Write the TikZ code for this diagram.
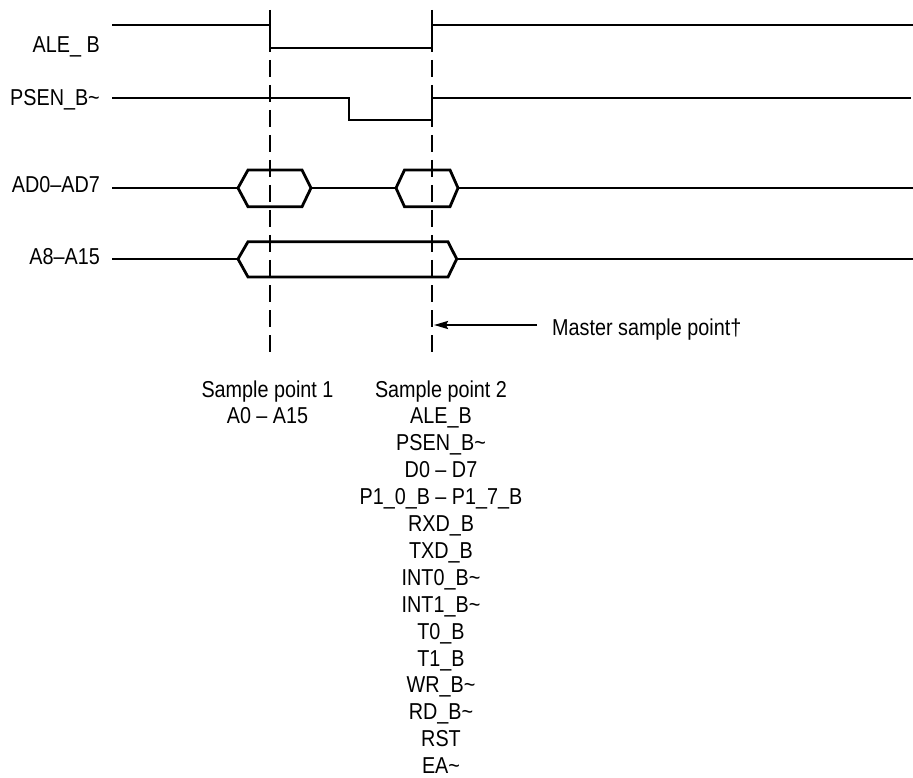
\documentclass[tikz,border=0pt]{standalone}
\usepackage{fontspec}
\setmainfont{Liberation Sans}[FakeStretch=0.86]
\usetikzlibrary{arrows.meta}
\begin{document}
\begin{tikzpicture}[x=1pt,y=-1pt,
  sig/.style={line width=2.8pt, line join=miter},
  marker/.style={line width=1.1pt, dash pattern=on 17pt off 8pt},
  lbl/.style={font=\fontsize{23}{27}\selectfont, inner sep=0pt},
  pointer/.style={line width=2.1pt, -{Stealth[length=14pt,width=8pt,inset=2pt]}}]
\useasboundingbox (0,0) rectangle (913,778);

% signal labels
\node[lbl, anchor=base east] (ale) at (100,53) {ALE\_ B};
\node[lbl, anchor=base east] (psen) at (100,106) {PSEN\_B\textasciitilde};
\node[lbl, anchor=base east] (ad) at (100,193) {AD0–AD7};
\node[lbl, anchor=base east] (a8) at (100,265) {A8–A15};

% sample markers
\draw[marker] (270,10) -- (270,357);
\draw[marker] (432,10) -- (432,357);

% ALE_B
\draw[sig] (112,25) -- (270,25) -- (270,48) -- (432,48) -- (432,25) -- (913,25);
% PSEN_B~
\draw[sig] (112,98) -- (349,98) -- (349,120) -- (432,120) -- (432,98) -- (911,98);
% AD0-AD7
\draw[sig] (112,188) -- (238,188);
\draw[sig] (238,188) -- (248,170) -- (302,170) -- (311,188) -- (302,206.7) -- (248,206.7) -- cycle;
\draw[sig] (311,188) -- (396,188);
\draw[sig] (396,188) -- (404.5,170) -- (450,170) -- (458,188) -- (450,206.7) -- (404.5,206.7) -- cycle;
\draw[sig] (458,188) -- (913,188);
% A8-A15
\draw[sig] (112,259) -- (238,259);
\draw[sig] (238,259) -- (248,241.7) -- (448,241.7) -- (456.7,259) -- (448,277) -- (248,277) -- cycle;
\draw[sig] (456.7,259) -- (913,259);

% master sample point
\node[lbl, anchor=base west] (master) at (552,335) {Master sample point†};
\coordinate (mtail) at (537,325);
\coordinate (mhead) at (434,325);
\draw[pointer] (mtail) -- (mhead);

% sample point lists
\node[lbl, anchor=base] (sp1) at (267.5,397) {Sample point 1};
\node[lbl, anchor=base] (sp1a) at (267.5,423.9) {A0 – A15};
\foreach \t [count=\i from 0] in {Sample point 2, ALE\_B, PSEN\_B\textasciitilde, D0 – D7, P1\_0\_B – P1\_7\_B, RXD\_B, TXD\_B, INT0\_B\textasciitilde, INT1\_B\textasciitilde, T0\_B, T1\_B, WR\_B\textasciitilde, RD\_B\textasciitilde, RST, EA\textasciitilde}
  \node[lbl, anchor=base] (sp2-\i) at (441,397+26.9*\i) {\t};
\end{tikzpicture}
\end{document}
